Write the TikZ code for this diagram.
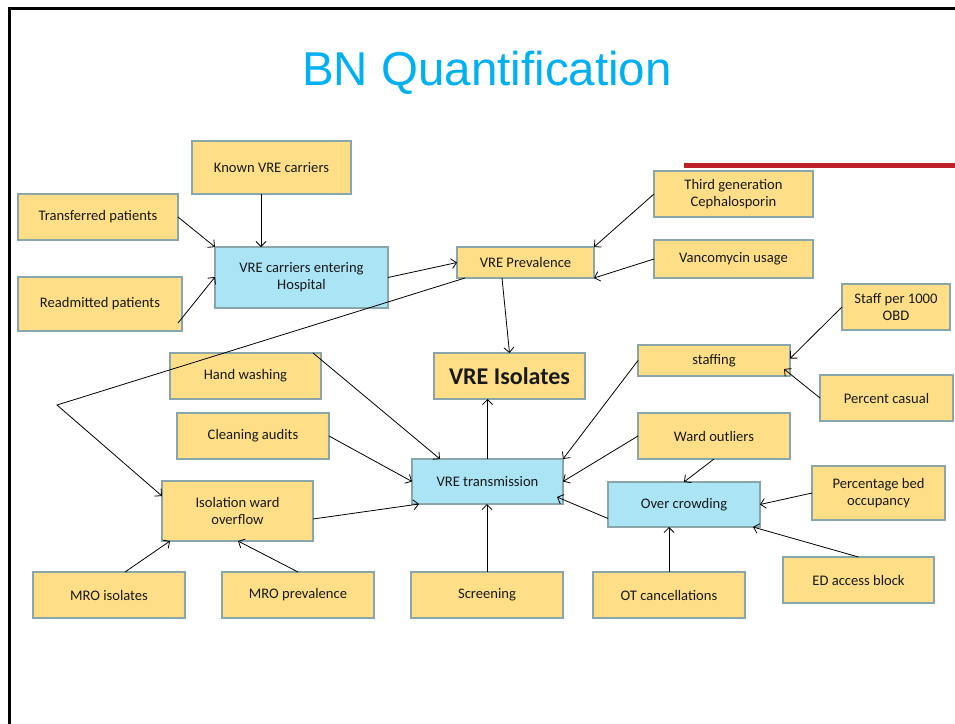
\documentclass[tikz,border=0pt]{standalone}
\usepackage{fontspec}
\setmainfont{Carlito}
\newfontfamily\titlefont{Liberation Sans}
\usetikzlibrary{arrows.meta}
\definecolor{boxy}{HTML}{FEDF87}
\definecolor{boxb}{HTML}{AAE4F5}
\definecolor{boxedge}{HTML}{8AA6AB}
\definecolor{titlec}{HTML}{00B0F0}
\definecolor{redbar}{HTML}{C0202A}
\tikzset{
  base/.style={draw=boxedge, line width=2.5pt, inner sep=2pt, outer sep=0pt, align=center,
    font=\fontsize{14.6}{17}\selectfont, text=black!90},
  ybox/.style={base, fill=boxy},
  bbox/.style={base, fill=boxb},
  conn/.style={line width=0.8pt, -{Straight Barb[length=5pt,width=10pt]}},
}
\newcommand{\bx}[6]{\node[#1, minimum width=#4pt, minimum height=#5pt] (#2) at (#3) {#6};}
\begin{document}
\begin{tikzpicture}[x=1pt,y=-1pt]
\useasboundingbox (0,0) rectangle (955,723);
% slide frame
\draw[line width=3pt] (9,725) -- (9,8.5) -- (957,8.5);
\draw[redbar, line width=5pt] (684,165.5) -- (957,165.5);
\node[font=\titlefont\fontsize{47.5}{50}\selectfont, text=titlec] (title) at (487,73) {BN Quantification};

\bx{ybox}{known}{271.5,167.5}{159}{53}{Known VRE carriers}
\bx{ybox}{transf}{98,217}{160}{46}{Transferred patients}
\bx{ybox}{readm}{100,304}{164}{54}{Readmitted patients}
\bx{bbox}{carriers}{301.5,277.5}{173}{61}{VRE carriers entering\\Hospital}
\bx{ybox}{prev}{525.5,262.5}{137}{31}{VRE Prevalence}
\bx{ybox}{third}{733.5,194}{159}{46}{Third generation\\Cephalosporin}
\bx{ybox}{vanc}{733.5,259}{159}{38}{Vancomycin usage}
\bx{ybox}{staffk}{896,307}{108}{46}{Staff per 1000\\OBD}
\bx{ybox}{staffing}{714,360.5}{152}{31}{staffing}
\bx{ybox}{pcas}{886.5,398}{133}{46}{Percent casual}
\node[ybox, minimum width=151pt, minimum height=46pt, font=\bfseries\fontsize{24}{28}\selectfont] (iso) at (509.5,376) {VRE Isolates};
\bx{ybox}{hand}{245.5,376}{151}{46}{Hand washing}
\bx{ybox}{clean}{253,436}{152}{46}{Cleaning audits}
\bx{ybox}{ward}{714,436}{152}{46}{Ward outliers}
\bx{bbox}{trans}{487.5,481.5}{151}{45}{VRE transmission}
\bx{ybox}{pbed}{878.5,493}{133}{54}{Percentage bed\\occupancy}
\bx{bbox}{crowd}{684,504.5}{152}{45}{Over crowding}
\bx{ybox}{ovf}{237.5,511}{151}{60}{Isolation ward\\overflow}
\bx{ybox}{mroi}{109,595}{152}{46}{MRO isolates}
\bx{ybox}{mrop}{298,595}{152}{46}{MRO prevalence}
\bx{ybox}{scr}{487,595}{152}{46}{Screening}
\bx{ybox}{ot}{669,595}{152}{46}{OT cancellations}
\bx{ybox}{ed}{858.5,580}{151}{46}{ED access block}

\coordinate (bend) at (57,405);

\draw[conn] ([shift={(-10.5,0)}]known.south) -- ([shift={(-40.5,0)}]carriers.north);
\draw[conn] (transf.east) -- (carriers.north west);
\draw[conn] ([shift={(-4,19)}]readm.east) -- ([shift={(0,30)}]carriers.north west);
\draw[conn] (carriers.east) -- (prev.west);
\draw[conn] (third.west) -- (prev.north east);
\draw[conn] (vanc.west) -- (prev.south east);
\draw[conn] ([shift={(-23.5,0)}]prev.south) -- (iso.north);
\draw[conn] ([shift={(8,0)}]prev.south west) -- (bend) -- ([shift={(0,-15)}]ovf.west);
\draw[conn] ([shift={(-8,0)}]hand.north east) -- ([shift={(28,0)}]trans.north west);
\draw[conn] (clean.east) -- (trans.west);
\draw[conn] ([shift={(0,8)}]ovf.east) -- ([shift={(7,0)}]trans.south west);
\draw[conn] (trans.north) -- (trans.north |- iso.south);
\draw[conn] (staffing.west) -- (trans.north east);
\draw[conn] (ward.west) -- (trans.east);
\draw[conn] ([shift={(0,14)}]crowd.west) -- ([shift={(-6,-7)}]trans.south east);
\draw[conn] (ward.south) -- (crowd.north);
\draw[conn] (pbed.west) -- (crowd.east);
\draw[conn] (ed.north) -- ([shift={(-7,0)}]crowd.south east);
\draw[conn] (ot.north) -- (ot.north |- crowd.south);
\draw[conn] (scr.north) -- (scr.north |- trans.south);
\draw[conn] ([shift={(16,0)}]mroi.north) -- ([shift={(8,0)}]ovf.south west);
\draw[conn] (mrop.north) -- ([shift={(76,0)}]ovf.south west);
\draw[conn] (staffk.west) -- ([shift={(0,-2)}]staffing.east);
\draw[conn] (pcas.west) -- ([shift={(-6,-7)}]staffing.south east);
\end{tikzpicture}
\end{document}
